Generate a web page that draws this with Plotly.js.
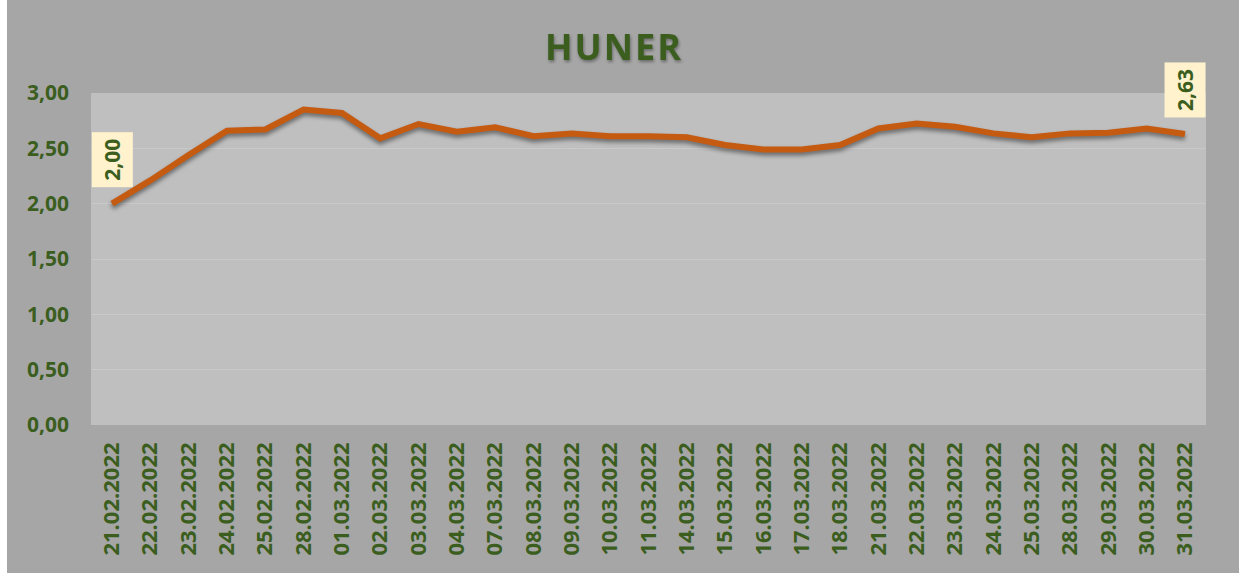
<!DOCTYPE html>
<html>
<head>
<meta charset="utf-8">
<script src="https://cdn.plot.ly/plotly-3.0.1.min.js"></script>
<style>
  html, body { margin: 0; padding: 0; background: #ffffff; }
  #chart { position: absolute; left: 7px; top: 0; width: 1232px; height: 573px; }
  .scatterlayer .js-line { filter: drop-shadow(0px 3px 2px rgba(0,0,0,0.45)); }
  .gtitle { filter: drop-shadow(1px 2px 1.5px rgba(0,0,0,0.35)); letter-spacing: 2px; }
</style>
</head>
<body>
<div id="chart"></div>
<script>
const dates = ["21.02.2022","22.02.2022","23.02.2022","24.02.2022","25.02.2022","28.02.2022",
  "01.03.2022","02.03.2022","03.03.2022","04.03.2022","07.03.2022","08.03.2022","09.03.2022",
  "10.03.2022","11.03.2022","14.03.2022","15.03.2022","16.03.2022","17.03.2022","18.03.2022",
  "21.03.2022","22.03.2022","23.03.2022","24.03.2022","25.03.2022","28.03.2022","29.03.2022",
  "30.03.2022","31.03.2022"];
const prices = [2.00,2.21,2.44,2.66,2.67,2.85,2.82,2.59,2.72,2.65,2.69,2.61,2.635,2.61,2.61,2.60,
  2.53,2.49,2.49,2.53,2.68,2.725,2.695,2.635,2.60,2.635,2.64,2.68,2.63];
const yTicks = [0,0.5,1,1.5,2,2.5,3];
const labelIdx = [0, prices.length - 1];

const green = "#3b5e1f";
const font = "Open Sans, sans-serif";

const annotations = labelIdx.map(i => ({
  x: dates[i], y: prices[i], xref: "x", yref: "y",
  text: prices[i].toFixed(2).replace(".", ","),
  showarrow: false, textangle: -90, yshift: 44,
  bgcolor: "#FFF2CC", borderpad: 6,
  font: {family: font, size: 21, color: green, weight: "bold"}
}));

Plotly.newPlot("chart", [{
  x: dates, y: prices, type: "scatter", mode: "lines",
  line: {color: "#C55A11", width: 6}, hoverinfo: "skip"
}], {
  width: 1232, height: 573,
  paper_bgcolor: "#A6A6A6", plot_bgcolor: "#BFBFBF",
  margin: {l: 84, r: 33, t: 93, b: 148},
  separators: ", ",
  title: {text: "<b>HUNER</b>", x: 0.4927, xanchor: "center", y: 0.918, yanchor: "middle",
    font: {family: font, size: 36, color: green}},
  showlegend: false,
  xaxis: {type: "category", tickangle: -90, showgrid: false, zeroline: false,
    showline: false, ticks: "", ticklen: 0, ticklabelstandoff: 12,
    tickfont: {family: font, size: 22, color: green, weight: "bold"}, automargin: false},
  yaxis: {range: [0, 3], tickvals: yTicks, tickformat: ".2f", showgrid: true,
    gridcolor: "#C9C9C9", gridwidth: 1, zeroline: false, showline: false, ticks: "",
    ticklabelstandoff: 21,
    tickfont: {family: font, size: 21, color: green, weight: "bold"}, automargin: false},
  annotations: annotations
}, {displayModeBar: false, staticPlot: true});
</script>
</body>
</html>
